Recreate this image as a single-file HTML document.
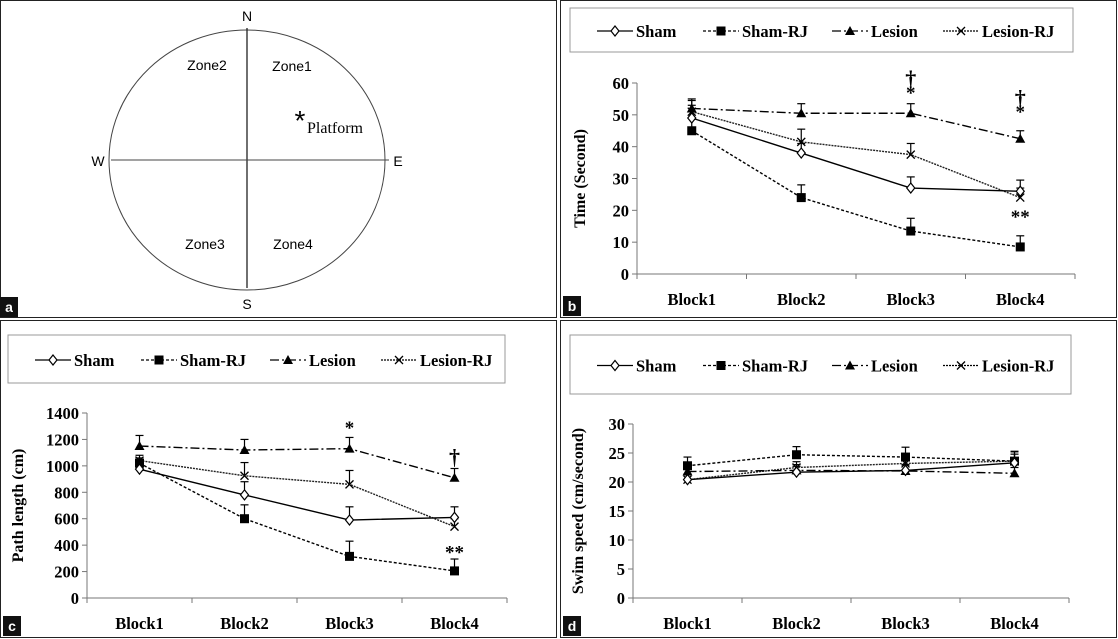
<!DOCTYPE html>
<html><head><meta charset="utf-8"><style>
body{margin:0;background:#fff;width:1118px;height:639px;overflow:hidden}
svg{display:block}
.s{font-family:"Liberation Serif",serif;font-weight:bold}
.a{font-family:"Liberation Sans",sans-serif}
</style></head><body>
<svg id="fig" width="1118" height="639" viewBox="0 0 1118 639">
<g>
<rect x="0.5" y="0.5" width="556" height="317" fill="#fff" stroke="#222"/>
<ellipse cx="247" cy="160" rx="138" ry="130" fill="none" stroke="#444"/>
<line x1="247" y1="28" x2="247" y2="288" stroke="#222" stroke-width="1.3"/>
<line x1="111" y1="160" x2="389" y2="160" stroke="#444"/>
<text class="a" x="247" y="21" font-size="14" text-anchor="middle">N</text>
<text class="a" x="247" y="309" font-size="14" text-anchor="middle">S</text>
<text class="a" x="98" y="166" font-size="14" text-anchor="middle">W</text>
<text class="a" x="398" y="166" font-size="14" text-anchor="middle">E</text>
<text class="a" x="207" y="70" font-size="14" text-anchor="middle">Zone2</text>
<text class="a" x="292" y="71" font-size="14" text-anchor="middle">Zone1</text>
<text class="a" x="205" y="249" font-size="14" text-anchor="middle">Zone3</text>
<text class="a" x="293" y="249" font-size="14" text-anchor="middle">Zone4</text>
<text class="a" x="300" y="130" font-size="28" text-anchor="middle">*</text>
<text x="307" y="133" font-family="Liberation Serif,serif" font-size="16">Platform</text>
<rect x="0" y="297" width="18" height="20" fill="#111"/>
<text class="a" x="9" y="312" font-size="14" font-weight="bold" fill="#fff" text-anchor="middle">a</text>
</g>
</svg>
<script>
const blocks=["Block1","Block2","Block3","Block4"];
const seriesNames=["Sham","Sham-RJ","Lesion","Lesion-RJ"];
const bSham=[49,38,27,26], bShamRJ=[45,24,13.5,8.5], bLesion=[52,50.5,50.5,42.5], bLesionRJ=[51,41.5,37.5,24];
const bShamErr=[4,3,3.5,3.5], bShamRJErr=[4,4,4,3.5], bLesionErr=[3,3,3,2.5], bLesionRJErr=[3.5,4,3.5,3];
const bTicks=[0,10,20,30,40,50,60];
const cSham=[975,780,590,610], cShamRJ=[1020,600,315,205], cLesion=[1150,1120,1130,910], cLesionRJ=[1040,925,860,540];
const cShamErr=[60,100,100,80], cShamRJErr=[40,105,115,90], cLesionErr=[80,80,85,70], cLesionRJErr=[40,100,105,60];
const cTicks=[0,200,400,600,800,1000,1200,1400];
const dSham=[20.4,21.7,22,23.3], dShamRJ=[22.8,24.7,24.3,23.6], dLesion=[21.8,22,21.9,21.5], dLesionRJ=[20.4,22.5,23.2,23.6];
const dShamErr=[1,1,1,1.5], dShamRJErr=[1.5,1.4,1.7,1.6], dLesionErr=[1,1,1,1], dLesionRJErr=[1,1,1,1.7];
const dTicks=[0,5,10,15,20,25,30];
const NS="http://www.w3.org/2000/svg";
const svg=document.getElementById('fig');
function mk(tag,at,parent){const e=document.createElementNS(NS,tag);for(const k in at)e.setAttribute(k,at[k]);(parent||svg).appendChild(e);return e;}
const dashes=["none","3,2","9,3,2,3","2,1"];
function marker(g,i,x,y){
 if(i===0){const m=mk('polygon',{points:`${x},${y-5} ${x+4},${y} ${x},${y+5} ${x-4},${y}`,fill:'#fff',stroke:'#000','stroke-width':1.2},g);}
 else if(i===1){const m=mk('rect',{x:x-4.5,y:y-4.5,width:9,height:9,fill:'#000'},g);}
 else if(i===2){const m=mk('polygon',{points:`${x},${y-5} ${x+5},${y+4} ${x-5},${y+4}`,fill:'#000'},g);}
 else {const m=mk('path',{d:`M${x-4},${y-4}L${x+4},${y+4}M${x+4},${y-4}L${x-4},${y+4}`,stroke:'#000','stroke-width':1.3,fill:'none'},g);}
}
function panel(p){
 const g=mk('g',{});
 
 
 const fr=mk('rect',{x:p.fx+0.5,y:p.fy+0.5,width:556,height:317,fill:'#fff',stroke:'#222'},g);
 
 const lg=mk('g',{},g);
 
 const lb=mk('rect',{x:p.lx,y:p.ly,width:p.lw,height:p.lh,fill:'#fff',stroke:'#999'},lg);
 
 const offs=[0,106,235,346];
 seriesNames.forEach((n,i)=>{
  const x0=p.lx+27+offs[i], y=p.ly+p.lh/2+1;
  const e=mk('g',{},lg);
  
  mk('line',{x1:x0,y1:y,x2:x0+36,y2:y,stroke:'#000','stroke-width':1.3,'stroke-dasharray':dashes[i]},e);
  marker(e,i,x0+18,y);
  const t=mk('text',{x:x0+39,y:y+6,'font-size':16.5,class:'s'},e);t.textContent=n;
 });
 const X=i=>p.ax+(i+0.5)*p.bw;
 const Y=v=>p.y0-(v-p.min)/(p.max-p.min)*(p.y0-p.y1);
 const ax=mk('g',{},g);
 
 mk('line',{x1:p.ax,y1:Y(p.max),x2:p.ax,y2:p.y0,stroke:'#777'},ax);
 p.ticks.forEach(t=>{
  mk('line',{x1:p.ax-5,y1:Y(t),x2:p.ax,y2:Y(t),stroke:'#777'},ax);
  const tl=mk('text',{x:p.ax-8,y:Y(t)+6,'font-size':16.5,'text-anchor':'end',class:'s'},ax);
  
  tl.textContent=t;
 });
 const yt=mk('text',{x:0,y:0,'font-size':16,'text-anchor':'middle',class:'s',transform:`translate(${p.ax-p.titleOff},${(p.y0+Y(p.max))/2}) rotate(-90)`},ax);
 
 yt.textContent=p.title;
 const xa=mk('g',{},g);
 
 mk('line',{x1:p.ax,y1:p.y0,x2:p.ax+4*p.bw,y2:p.y0,stroke:'#777'},xa);
 for(let i=0;i<=4;i++)mk('line',{x1:p.ax+i*p.bw,y1:p.y0,x2:p.ax+i*p.bw,y2:p.y0+5,stroke:'#777'},xa);
 blocks.forEach((b,i)=>{
  const t=mk('text',{x:X(i),y:p.y0+31,'font-size':16.5,'text-anchor':'middle',class:'s'},xa);
  
  t.textContent=b;
 });
 [3,2,1,0].forEach(si=>{
  const vals=p.data[si], err=p.err[si];
  const sg=mk('g',{},g);
  
  vals.forEach((v,i)=>{
   mk('line',{x1:X(i),y1:Y(v),x2:X(i),y2:Y(v+err[i]),stroke:'#000','stroke-width':1.2},sg);
   mk('line',{x1:X(i)-4,y1:Y(v+err[i]),x2:X(i)+4,y2:Y(v+err[i]),stroke:'#000','stroke-width':1.2},sg);
  });
  mk('polyline',{points:vals.map((v,i)=>X(i)+','+Y(v)).join(' '),fill:'none',stroke:si===3?'#222':'#000','stroke-width':1.4,'stroke-dasharray':dashes[si]},sg);
  vals.forEach((v,i)=>marker(sg,si,X(i),Y(v)));
 });
 (p.ann||[]).forEach(a=>{
  const t=mk('text',{x:X(a[0]),y:Y(a[1]),'font-size':a[2]==='†'?22:19,'text-anchor':'middle',class:'s'},g);
  
  t.textContent=a[2];
 });
 const tb=mk('rect',{x:p.fx+3,y:p.fy+296,width:18,height:20,fill:'#111'},g);
 
 const tt=mk('text',{x:p.fx+12,y:p.fy+311,'font-size':14,'font-weight':'bold',fill:'#fff','text-anchor':'middle',class:'a'},g);
 
 tt.textContent=p.id;
}
panel({id:'b',fx:560,fy:0,lx:570,ly:8,lw:503,lh:44,ax:637,bw:109.5,y0:274,y1:83,min:0,max:60,ticks:bTicks,title:'Time (Second)',titleOff:52,
 data:[bSham,bShamRJ,bLesion,bLesionRJ],err:[bShamErr,bShamRJErr,bLesionErr,bLesionRJErr],
 ann:[[2,59,'†'],[2,55,'*'],[3,53,'†'],[3,49,'*'],[3,16,'**']]});
panel({id:'c',fx:0,fy:320,lx:8,ly:335,lw:497,lh:48,ax:87,bw:105,y0:598,y1:413,min:0,max:1400,ticks:cTicks,title:'Path length (cm)',titleOff:64,
 data:[cSham,cShamRJ,cLesion,cLesionRJ],err:[cShamErr,cShamRJErr,cLesionErr,cLesionRJErr],
 ann:[[2,1240,'*'],[3,1010,'†'],[3,300,'**']]});
panel({id:'d',fx:560,fy:320,lx:570,ly:335,lw:501,lh:59,ax:633,bw:109,y0:598,y1:424,min:0,max:30,ticks:dTicks,title:'Swim speed (cm/second)',titleOff:50,
 data:[dSham,dShamRJ,dLesion,dLesionRJ],err:[dShamErr,dShamRJErr,dLesionErr,dLesionRJErr],ann:[]});
</script>
</body></html>
